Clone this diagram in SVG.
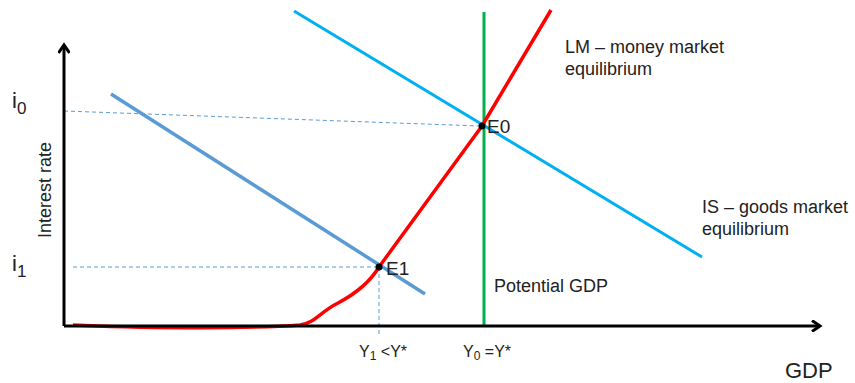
<svg xmlns="http://www.w3.org/2000/svg" width="855" height="383" viewBox="0 0 855 383">
<style>
text{font-family:"Liberation Sans",Arial,sans-serif;fill:#222}
.lbl{font-size:18px}
.dash{stroke:#5B9BD5;stroke-width:1;stroke-dasharray:4 3;fill:none}
.axis{stroke:#000;stroke-width:3;fill:none}
</style>
<defs>
<marker id="arr" markerWidth="12" markerHeight="12" refX="9" refY="6" orient="auto" markerUnits="userSpaceOnUse">
<path d="M1,0.5 L9,6 L1,11.5" fill="none" stroke="#000" stroke-width="3"/>
</marker>
</defs>
<rect width="855" height="383" fill="#fff"/>
<g id="connectors">
<line class="dash" x1="64" y1="111" x2="480" y2="126"/>
<line class="dash" x1="73" y1="267" x2="379" y2="267"/>
<line class="dash" x1="379" y1="267" x2="379" y2="334"/>
<line id="potential" x1="484" y1="12" x2="484" y2="326" stroke="#00B050" stroke-width="3"/>
<line id="is0" x1="294" y1="11" x2="702" y2="257" stroke="#00B0F0" stroke-width="3"/>
<line id="is1" x1="111" y1="94" x2="425" y2="294" stroke="#5B9BD5" stroke-width="3.5"/>
<path id="lm" d="M73,325 C130,328 250,329 300,325 C315,323 320,312 338,303 C355,294 370,282 379,267 L482,126 L551,10" fill="none" stroke="#FF0000" stroke-width="3.5" stroke-linejoin="round"/>
<path class="axis" d="M64,326 L64,45" marker-end="url(#arr)"/>
<path class="axis" d="M64,326 L820,326" marker-end="url(#arr)"/>
</g>
<g id="E0"><circle cx="482" cy="126" r="3.5" fill="#000"/><text class="lbl" x="487" y="133" style="font-size:19px">E0</text></g>
<g id="E1"><circle cx="379" cy="267" r="3.5" fill="#000"/><text class="lbl" x="386" y="275" style="font-size:19px">E1</text></g>
<g id="labels">
<text x="12" y="108" style="font-size:22px">i<tspan font-size="17" dy="6">0</tspan></text>
<text x="12" y="271" style="font-size:22px">i<tspan font-size="17" dy="6">1</tspan></text>
<text class="lbl" transform="translate(51,190) rotate(-90)" text-anchor="middle">Interest rate</text>
<text class="lbl" x="565" y="53">LM – money market</text>
<text class="lbl" x="565" y="75">equilibrium</text>
<text class="lbl" x="702" y="213">IS – goods market</text>
<text class="lbl" x="702" y="235">equilibrium</text>
<text class="lbl" x="494" y="292">Potential GDP</text>
<text x="359" y="357" style="font-size:16px">Y<tspan font-size="12" dy="3">1</tspan><tspan dy="-3"> &lt;Y*</tspan></text>
<text x="463" y="357" style="font-size:16px">Y<tspan font-size="12" dy="3">0</tspan><tspan dy="-3"> =Y*</tspan></text>
<text x="785" y="378" style="font-size:22px">GDP</text>
</g>
</svg>
